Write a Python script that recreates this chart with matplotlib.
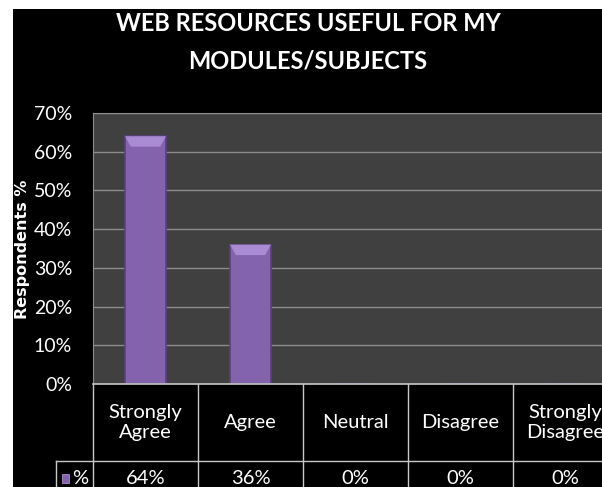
import matplotlib
matplotlib.use("Agg")
import matplotlib.pyplot as plt
from matplotlib.patches import Rectangle, Polygon
from matplotlib.lines import Line2D

categories = ["Strongly\nAgree", "Agree", "Neutral", "Disagree", "Strongly\nDisagree"]
values = [64, 36, 0, 0, 0]
value_labels = ["64%", "36%", "0%", "0%", "0%"]
yticks = [0, 10, 20, 30, 40, 50, 60, 70]
ytick_labels = ["0%", "10%", "20%", "30%", "40%", "50%", "60%", "70%"]
series_name = "%"
title = "WEB RESOURCES USEFUL FOR MY\nMODULES/SUBJECTS"
ylabel = "Respondents %"

FONT = ["Lato", "DejaVu Sans"]
W, H = 602, 487
fig = plt.figure(figsize=(W / 100, H / 100), dpi=100)
fig.patch.set_facecolor("white")

# black background panel
fig.add_artist(Rectangle((13 / W, 0), 1, 1 - 9 / H, transform=fig.transFigure,
                         facecolor="black", edgecolor="none", zorder=0))

left, bottom_px, top_px, catw = 93, 384, 113, 105
ncat = len(categories)
ax = fig.add_axes([left / W, (H - bottom_px) / H, ncat * catw / W, (bottom_px - top_px) / H])
ax.set_facecolor("#404040")
x = list(range(ncat))
bw = 0.39
ax.set_xlim(-0.5, ncat - 0.5)
ax.set_ylim(0, 70)
ax.bar(x, values, width=bw, color="#8463AD", edgecolor="#5a4080", linewidth=1.2, zorder=3)
# top bevel highlight (trapezoid derived from each bar's value)
bev_h, bev_in = 2.7, 0.055
for xi, v in zip(x, values):
    if v <= 0:
        continue
    ax.add_patch(Polygon([(xi - bw / 2, v), (xi + bw / 2, v),
                          (xi + bw / 2 - bev_in, v - bev_h), (xi - bw / 2 + bev_in, v - bev_h)],
                         closed=True, facecolor="#a88bd2", edgecolor="none", zorder=4))
for t in yticks[1:]:
    ax.axhline(t, color="#8c8c8c", linewidth=1.0, zorder=1)
ax.set_yticks(yticks)
ax.set_yticklabels(ytick_labels, family=FONT, fontsize=14, color="white")
ax.tick_params(axis="y", length=0, pad=15)
ax.set_xticks([])
for s in ["left", "top", "right"]:
    ax.spines[s].set_color("#8c8c8c")
ax.spines["bottom"].set_visible(False)

fig.text(22 / W, 1 - 249 / H, ylabel, rotation=90, ha="center", va="center", fontsize=11.5,
         fontweight="bold", color="white", family="DejaVu Sans")

fig.text(308 / W, 1 - 42 / H, title, ha="center", va="center", fontsize=17, fontweight="bold",
         color="white", family=FONT, linespacing=1.75)

# data table
tax = fig.add_axes([left / W, 0, ncat * catw / W, (H - bottom_px) / H])
tax.set_xlim(-0.5, ncat - 0.5)
tax.set_ylim(0, H - bottom_px)
tax.axis("off")
tax.patch.set_visible(False)
row_y = H - 461
lc = "#c8c8c8"
leg_left = -0.5 - (left - 56) / catw
tax.add_line(Line2D([-0.5, ncat - 0.5], [H - bottom_px, H - bottom_px], color=lc, lw=1.2, clip_on=False))
tax.add_line(Line2D([leg_left, ncat - 0.5], [row_y, row_y], color=lc, lw=1.0, clip_on=False))
tax.add_line(Line2D([leg_left, leg_left], [row_y, -5], color=lc, lw=1.0, clip_on=False))
for i in range(ncat + 1):
    tax.add_line(Line2D([i - 0.5, i - 0.5], [H - bottom_px, -5], color=lc, lw=1.0, clip_on=False))
val_y = H - 479
for i, (c, v) in enumerate(zip(categories, value_labels)):
    tax.text(i, (H - bottom_px + row_y) / 2, c, ha="center", va="center", color="white",
             fontsize=14.5, family=FONT, linespacing=1.25)
    tax.text(i, val_y, v, ha="center", va="center", color="white", fontsize=14.5, family=FONT)
tax.add_patch(Rectangle((leg_left + 0.055, val_y - 4), 0.065, 9, facecolor="#8463AD",
                        edgecolor="#a88bd2", lw=0.6, clip_on=False))
tax.text(leg_left + 0.15, val_y, series_name, ha="left", va="center", color="white",
         fontsize=14.5, family=FONT)

fig.savefig("out.png", dpi=100, facecolor=fig.get_facecolor())
